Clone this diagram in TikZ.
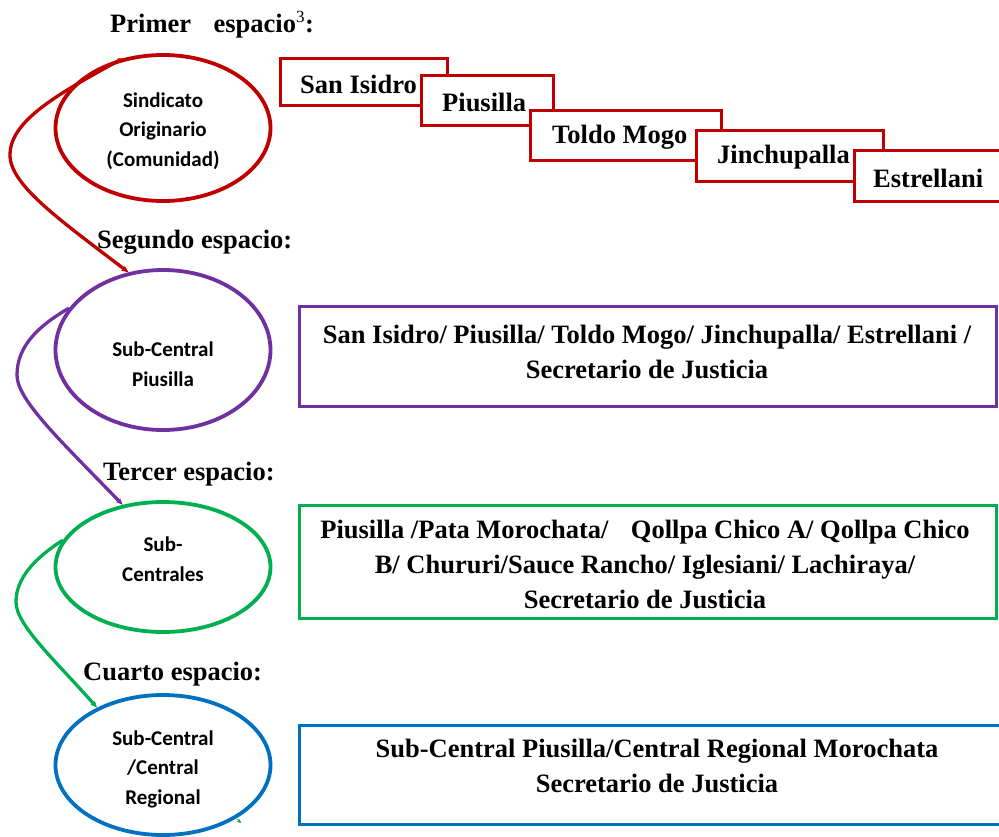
\documentclass[tikz,border=0pt]{standalone}
\usepackage{fontspec}
\setmainfont{Liberation Serif}
\newfontfamily\calfont{Carlito}
\usetikzlibrary{shapes.geometric,arrows.meta}
\definecolor{cred}{HTML}{C00000}
\definecolor{cpurple}{HTML}{7030A0}
\definecolor{cgreen}{HTML}{00B050}
\definecolor{cblue}{HTML}{0070C0}
\begin{document}
\begin{tikzpicture}[x=1pt,y=-1pt,
  oval/.style={ellipse,draw,line width=3.8pt,minimum width=215pt,inner sep=0pt},
  ovtxt/.style={align=center,inner sep=0pt,font=\calfont\bfseries\fontsize{21}{29.5}\selectfont},
  stair/.style={draw=cred,line width=2.8pt,fill=white,anchor=north west},
  stairtxt/.style={anchor=west,inner sep=0pt,font=\bfseries\fontsize{26.5}{30}\selectfont},
  bigbox/.style={draw,line width=2.8pt,anchor=north west},
  bigtxt/.style={align=center,inner sep=0pt,font=\bfseries\fontsize{26.5}{35}\selectfont},
  head/.style={anchor=base west,inner sep=0pt,font=\bfseries\fontsize{26.5}{30}\selectfont},
  conn/.style={line width=3.3pt,-{Stealth[length=7pt,width=6pt]}}]
\useasboundingbox (0,0) rectangle (999,836);
% headings
\node[head] (h1) at (110,32) {Primer\hspace{0.85em}espacio\textsuperscript{\fontsize{17}{20}\selectfont\mdseries 3}:};
\node[head] (h2) at (97,248) {Segundo espacio:};
\node[head] (h3) at (103,480) {Tercer espacio:};
\node[head] (h4) at (83,680) {Cuarto espacio:};
% ellipses
\node[oval,draw=cred,minimum height=146pt] (e1) at (163,128) {};
\node[ovtxt] (l1) at (163,131) {Sindicato\\Originario\\(Comunidad)};
\node[oval,draw=cpurple,minimum height=160pt] (e2) at (163,350) {};
\node[ovtxt] (l2) at (163,364) {Sub-Central\\Piusilla};
\node[oval,draw=cgreen,minimum height=130pt] (e3) at (163,567) {};
\node[ovtxt] (l3) at (163,559) {Sub-\\Centrales};
\node[oval,draw=cblue,minimum height=140pt] (e4) at (163,765) {};
\node[ovtxt] (l4) at (163,769) {Sub-Central\\/Central\\Regional};
% staircase boxes
\node[stair,minimum width=167pt,minimum height=47pt] (b1) at (279,57) {};
\node[stairtxt] (t1) at (300,84) {San Isidro};
\node[stair,minimum width=132pt,minimum height=50pt] (b2) at (420,74) {};
\node[stairtxt] (t2) at (442,102) {Piusilla};
\node[stair,minimum width=191pt,minimum height=50pt] (b3) at (529,109) {};
\node[stairtxt] (t3) at (552,137) {Toldo Mogo};
\node[stair,minimum width=187pt,minimum height=51pt] (b4) at (695,129) {};
\node[stairtxt] (t4) at (717,157) {Jinchupalla};
\node[stair,minimum width=150pt,minimum height=51pt] (b5) at (853,149) {};
\node[stairtxt] (t5) at (873,178) {Estrellani};
% big boxes
\node[bigbox,draw=cpurple,minimum width=697pt,minimum height=100pt] (p) at (298,305) {};
\node[bigtxt] (pt) at (647,352) {San Isidro/ Piusilla/ Toldo Mogo/ Jinchupalla/ Estrellani /\\Secretario de Justicia};
\node[bigbox,draw=cgreen,minimum width=697pt,minimum height=113pt] (g) at (298,504) {};
\node[bigtxt] (gt) at (645,564) {Piusilla /Pata Morochata/\hspace{0.6em} Qollpa Chico A/ Qollpa Chico\\B/ Chururi/Sauce Rancho/ Iglesiani/ Lachiraya/\\Secretario de Justicia};
\node[bigbox,draw=cblue,minimum width=710pt,minimum height=99pt] (bl) at (298,724) {};
\node[bigtxt] (blt) at (657,766) {Sub-Central Piusilla/Central Regional Morochata\\Secretario de Justicia};
% connectors
\coordinate (r1) at (10,155);
\coordinate (q1) at (17,375);
\coordinate (s1) at (16,602);
\draw[conn,draw=cred,{Stealth[length=5pt,width=5pt]}-{Stealth[length=7pt,width=6pt]}] (e1.120) .. controls (60,93) and (10,120) .. (r1) .. controls (10,185) and (60,220) .. (e2.114);
\draw[conn,draw=cpurple] (e2.156) .. controls (40,325) and (17,345) .. (q1) .. controls (17,400) and (60,440) .. (e3.123);
\draw[conn,draw=cgreen] (e3.165) .. controls (35,558) and (16,578) .. (s1) .. controls (16,625) and (55,660) .. (e4.139);
\coordinate (gm) at (241,823);
\draw[draw=cgreen,line width=1pt,-{Stealth[length=4pt,width=4pt]}] (237,819) -- (gm);
\end{tikzpicture}
\end{document}
